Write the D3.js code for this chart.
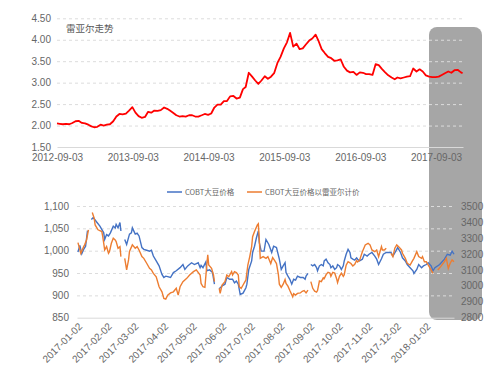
<!DOCTYPE html>
<html>
<head>
<meta charset="utf-8">
<title>雷亚尔走势 / CBOT大豆价格</title>
<script src="https://d3js.org/d3.v7.min.js"></script>
<style>
    body { margin: 0; background: #fff; }
    svg text { font-family: "Noto Sans CJK SC", "Noto Sans", sans-serif; fill: #666; }
    svg .tick text { font-family: "Liberation Sans", "DejaVu Sans", sans-serif; }
</style>
</head>
<body>
<div id="chart"></div>
<script>
// ---- top chart: BRL exchange rate (semi-monthly readings) ----
var rateDates = [
    "2012-09-03","2012-09-16","2012-10-01","2012-10-16","2012-11-01","2012-11-16","2012-12-01","2012-12-16",
    "2013-01-01","2013-01-16","2013-02-01","2013-02-16","2013-03-01","2013-03-16","2013-04-01","2013-04-16","2013-05-01","2013-05-16","2013-06-01","2013-06-16",
    "2013-07-01","2013-07-16","2013-08-01","2013-08-16","2013-09-01","2013-09-16","2013-10-01","2013-10-16","2013-11-01","2013-11-16","2013-12-01","2013-12-16",
    "2014-01-01","2014-01-16","2014-02-01","2014-02-16","2014-03-01","2014-03-16","2014-04-01","2014-04-16","2014-05-01","2014-05-16","2014-06-01","2014-06-16",
    "2014-07-01","2014-07-16","2014-08-01","2014-08-16","2014-09-01","2014-09-16","2014-10-01","2014-10-16","2014-11-01","2014-11-16","2014-12-01","2014-12-16",
    "2015-01-01","2015-01-16","2015-02-01","2015-02-16","2015-03-01","2015-03-16","2015-04-01","2015-04-16","2015-05-01","2015-05-16","2015-06-01","2015-06-16",
    "2015-07-01","2015-07-16","2015-08-01","2015-08-16","2015-09-01","2015-09-16","2015-10-01","2015-10-16","2015-11-01","2015-11-16","2015-12-01","2015-12-16",
    "2016-01-01","2016-01-16","2016-02-01","2016-02-16","2016-03-01","2016-03-16","2016-04-01","2016-04-16","2016-05-01","2016-05-16","2016-06-01","2016-06-16",
    "2016-07-01","2016-07-16","2016-08-01","2016-08-16","2016-09-01","2016-09-16","2016-10-01","2016-10-16","2016-11-01","2016-11-16","2016-12-01","2016-12-16",
    "2017-01-01","2017-01-16","2017-02-01","2017-02-16","2017-03-01","2017-03-16","2017-04-01","2017-04-16","2017-05-01","2017-05-16","2017-06-01","2017-06-16",
    "2017-07-01","2017-07-16","2017-08-01","2017-08-16","2017-09-01","2017-09-16","2017-10-01","2017-10-16","2017-11-01","2017-11-16","2017-12-01","2017-12-16",
    "2018-01-01","2018-01-09"
];
var rateValues = [
    2.05, 2.04, 2.03, 2.04, 2.03, 2.06, 2.10, 2.11,
    2.06, 2.05, 2.02, 1.98, 1.96, 1.97, 2.02, 2.00, 2.02, 2.03, 2.10, 2.21, 2.27, 2.26, 2.28, 2.35, 2.43, 2.30, 2.22, 2.18, 2.20, 2.32, 2.30, 2.35,
    2.34, 2.36, 2.42, 2.39, 2.35, 2.30, 2.24, 2.21, 2.22, 2.21, 2.24, 2.24, 2.21, 2.21, 2.24, 2.27, 2.25, 2.28, 2.42, 2.49, 2.49, 2.57, 2.57, 2.68,
    2.69, 2.63, 2.65, 2.85, 2.90, 3.23, 3.14, 3.05, 2.97, 3.05, 3.15, 3.09, 3.14, 3.22, 3.46, 3.60, 3.80, 3.94, 4.16, 3.84, 3.91, 3.78, 3.80, 3.89,
    3.98, 4.03, 4.12, 3.96, 3.78, 3.69, 3.60, 3.57, 3.51, 3.52, 3.54, 3.37, 3.28, 3.24, 3.25, 3.18, 3.24, 3.23, 3.20, 3.20, 3.18, 3.43, 3.41, 3.32,
    3.24, 3.17, 3.12, 3.08, 3.12, 3.10, 3.12, 3.14, 3.15, 3.33, 3.26, 3.31, 3.26, 3.17, 3.14, 3.13, 3.13, 3.14, 3.18, 3.22, 3.26, 3.23, 3.29, 3.30,
    3.24, 3.22
];
var rateTicks = [1.5, 2.0, 2.5, 3.0, 3.5, 4.0, 4.5];
var rateTickDates = ["2012-09-03", "2013-09-03", "2014-09-03", "2015-09-03", "2016-09-03", "2017-09-03"];

// ---- bottom chart: soybean price (null = gap in the series) ----
var cobtDates = [
    "2017-01-02","2017-01-04","2017-01-06","2017-01-08","2017-01-10","2017-01-12","2017-01-14",
    "2017-01-16","2017-01-18","2017-01-22","2017-01-25","2017-01-29","2017-01-30","2017-02-01","2017-02-03","2017-02-05","2017-02-08","2017-02-10","2017-02-11","2017-02-13","2017-02-15","2017-02-16","2017-02-18",
    "2017-02-20","2017-02-22","2017-02-25","2017-02-27","2017-02-28","2017-03-03","2017-03-05","2017-03-07","2017-03-10","2017-03-12","2017-03-15","2017-03-18","2017-03-20","2017-03-22","2017-03-25","2017-03-28","2017-03-31",
    "2017-04-02","2017-04-04","2017-04-06","2017-04-09","2017-04-12","2017-04-15","2017-04-19","2017-04-22","2017-04-24","2017-04-27","2017-05-01","2017-05-04","2017-05-08","2017-05-10","2017-05-11","2017-05-13","2017-05-16","2017-05-17","2017-05-20","2017-05-23","2017-05-25","2017-05-27",
    "2017-05-30","2017-06-02","2017-06-05","2017-06-07","2017-06-10","2017-06-13","2017-06-15","2017-06-17","2017-06-19","2017-06-21","2017-06-24","2017-06-27","2017-06-28","2017-06-30",
    "2017-07-03","2017-07-04","2017-07-06","2017-07-08","2017-07-10","2017-07-11","2017-07-13","2017-07-16","2017-07-18","2017-07-21","2017-07-24","2017-07-26","2017-07-29",
    "2017-08-01","2017-08-03","2017-08-05","2017-08-07","2017-08-08","2017-08-10","2017-08-12","2017-08-14","2017-08-16","2017-08-18","2017-08-20","2017-08-23","2017-08-26","2017-08-28","2017-08-29","2017-08-31","2017-09-01",
    "2017-09-03","2017-09-05","2017-09-07","2017-09-09","2017-09-10","2017-09-12","2017-09-14","2017-09-16","2017-09-17","2017-09-19","2017-09-21","2017-09-23","2017-09-24","2017-09-26","2017-09-28","2017-09-30",
    "2017-10-01","2017-10-03","2017-10-05","2017-10-07","2017-10-08","2017-10-10","2017-10-12","2017-10-14","2017-10-15","2017-10-17","2017-10-19","2017-10-21","2017-10-22","2017-10-24","2017-10-27","2017-10-29",
    "2017-11-01","2017-11-03","2017-11-06","2017-11-09","2017-11-11","2017-11-13","2017-11-16","2017-11-18","2017-11-21","2017-11-24","2017-11-26","2017-11-28",
    "2017-12-01","2017-12-03","2017-12-06","2017-12-08","2017-12-11","2017-12-13","2017-12-16","2017-12-19","2017-12-20","2017-12-23","2017-12-25","2017-12-28","2017-12-30",
    "2018-01-02","2018-01-04","2018-01-07","2018-01-09","2018-01-11","2018-01-16","2018-01-21","2018-01-24","2018-01-27","2018-01-29","2018-01-31"
];
var cobtPrices = [
    997, 1012, 993, 1003, 1010, 1045, null,
    1070, 1074, 1063, 1055, 1040, 1025, 1036, 1033, 1040, 1055, 1051, 1059, 1051, 1063, 1044, null,
    1025, 1014, 1037, 1040, 1051, 1037, 1039, 1033, 1007, 1003, 1001, 999, 1001, 988, 977, 966, 947,
    940, 943, 942, 940, 951, 955, 962, 969, 958, 966, 973, 969, 973, 962, 967, 962, 975, 955, 957, 951, 925, null,
    915, 921, 925, 940, 936, 936, 928, 932, 925, 902, 905, 917, 925, 958,
    977, 996, 1010, 1029, 1044, 1018, 999, 999, 1025, 1014, 996, 1010, 1007,
    981, 958, 966, 973, 951, 943, 936, 925, 936, 934, 943, 940, 940, 936, 943, 949, null,
    969, 966, 969, 962, 955, 966, 969, 966, 977, 981, 973, 969, 962, 966, 958, 962,
    969, 966, 958, 966, 977, 992, 1003, 996, 984, 981, 979, 984, 981, 977, 981, 992,
    988, 992, 996, 988, 981, 969, 982, 992, 996, 996, 996, 988,
    999, 1007, 996, 984, 977, 969, 962, 955, 949, 958, 969, 962, 966,
    969, 973, 966, 955, 962, 969, 981, 992, 990, 999, 992
];
var brlDates = [
    "2017-01-02","2017-01-05","2017-01-08","2017-01-09","2017-01-11","2017-01-13","2017-01-15",
    "2017-01-17","2017-01-19","2017-01-20","2017-01-23","2017-01-27","2017-01-28","2017-01-30","2017-02-01","2017-02-03","2017-02-04","2017-02-06","2017-02-08","2017-02-10","2017-02-11","2017-02-13","2017-02-15","2017-02-16","2017-02-18",
    "2017-02-20","2017-02-22","2017-02-24","2017-02-25","2017-02-28","2017-03-03","2017-03-05","2017-03-07","2017-03-10","2017-03-12","2017-03-15","2017-03-18","2017-03-20","2017-03-22","2017-03-25","2017-03-28","2017-03-31",
    "2017-04-02","2017-04-04","2017-04-06","2017-04-09","2017-04-12","2017-04-15","2017-04-17","2017-04-19","2017-04-22","2017-04-26","2017-04-29","2017-05-03","2017-05-06","2017-05-10","2017-05-11","2017-05-13","2017-05-15","2017-05-17","2017-05-18","2017-05-19","2017-05-22","2017-05-24","2017-05-25","2017-05-27",
    "2017-05-30","2017-05-31","2017-06-02","2017-06-05","2017-06-07","2017-06-09","2017-06-12","2017-06-13","2017-06-15","2017-06-17","2017-06-19","2017-06-20","2017-06-22","2017-06-24","2017-06-26","2017-06-27","2017-06-29",
    "2017-07-01","2017-07-03","2017-07-04","2017-07-06","2017-07-09","2017-07-10","2017-07-11","2017-07-12","2017-07-15","2017-07-18","2017-07-20","2017-07-23","2017-07-25","2017-07-27","2017-07-29","2017-07-31",
    "2017-08-01","2017-08-03","2017-08-05","2017-08-07","2017-08-08","2017-08-10","2017-08-12","2017-08-15","2017-08-16","2017-08-18","2017-08-20","2017-08-23","2017-08-25","2017-08-27","2017-08-29","2017-08-31","2017-09-01",
    "2017-09-03","2017-09-05","2017-09-07","2017-09-09","2017-09-10","2017-09-12","2017-09-14","2017-09-16","2017-09-17","2017-09-19","2017-09-21","2017-09-23","2017-09-24","2017-09-26","2017-09-28","2017-09-30",
    "2017-10-01","2017-10-03","2017-10-05","2017-10-07","2017-10-08","2017-10-10","2017-10-12","2017-10-14","2017-10-15","2017-10-17","2017-10-19","2017-10-21","2017-10-22","2017-10-24","2017-10-27","2017-10-30",
    "2017-11-02","2017-11-04","2017-11-06","2017-11-09","2017-11-11","2017-11-13","2017-11-16","2017-11-17","2017-11-19","2017-11-21","2017-11-23",
    "2017-11-26","2017-11-28","2017-11-30","2017-12-02","2017-12-04","2017-12-07","2017-12-08","2017-12-11","2017-12-13","2017-12-16","2017-12-18","2017-12-20","2017-12-23","2017-12-25","2017-12-28","2017-12-29","2017-12-31",
    "2018-01-02","2018-01-03","2018-01-05","2018-01-07","2018-01-09","2018-01-11",
    "2018-01-14","2018-01-17","2018-01-21","2018-01-23","2018-01-25","2018-01-27","2018-01-29","2018-01-31"
];
var brlPrices = [
    3272, 3205, 3247, 3258, 3289, 3353, null,
    3462, 3426, 3384, 3353, 3342, 3310, 3226, 3247, 3205, 3215, 3268, 3300, 3289, 3279, 3237, 3247, 3184, null,
    3173, 3100, 3163, 3216, 3258, 3237, 3247, 3226, 3184, 3173, 3142, 3110, 3100, 3078, 3057, 2994, 2962,
    2920, 2916, 2941, 2955, 2962, 2984, 2941, 2994, 3026, 3047, 3068, 3089, 3100, 3068, 3015, 2994, 2990, 3131, 3195, 3131, 3110, 3068, 3026, null,
    2984, 2952, 3005, 3026, 3068, 3057, 3089, 3068, 3089, 3083, 3068, 2994, 2984, 3005, 3026, 3036, 3131,
    3184, 3247, 3310, 3342, 3384, 3391, 3289, 3173, 3184, 3173, 3184, 3140, 3178, 3160, 3140, 3070,
    3010, 2990, 3010, 3040, 3015, 2998, 2970, 2931, 2950, 2941, 2952, 2955, 2965, 2970, 2955, 2973, null,
    3026, 2984, 2966, 2960, 2970, 3030, 3026, 3050, 3045, 3070, 3085, 3080, 3060, 3085, 3080, 3045,
    3020, 3060, 3080, 3060, 3070, 3130, 3152, 3145, 3140, 3125, 3135, 3160, 3150, 3160, 3215, 3258,
    3268, 3258, 3226, 3215, 3226, 3184, 3247, 3226, 3226, 3237, null,
    3205, 3184, 3237, 3258, 3247, 3226, 3205, 3173, 3142, 3131, 3152, 3173, 3215, 3184, 3173, 3184, 3152,
    3152, 3142, 3121, 3100, 3078, null,
    3100, 3121, 3152, 3173, 3110, 3142, 3163, 3152
];
var priceTicks = [850, 900, 950, 1000, 1050, 1100];
var brlTicks = [2800, 2900, 3000, 3100, 3200, 3300, 3400, 3500];
var monthTicks = ["2017-01-02","2017-02-02","2017-03-02","2017-04-02","2017-05-02","2017-06-02","2017-07-02",
    "2017-08-02","2017-09-02","2017-10-02","2017-11-02","2017-12-02","2018-01-02"];
var legendNames = ["COBT大豆价格", "CBOT大豆价格以雷亚尔计价"];
var lineColors = ["#4472c4", "#ed7d31"];

var parse = d3.timeParse("%Y-%m-%d");
var fmt = d3.timeFormat("%Y-%m-%d");

var svg = d3.select("#chart")
    .append("svg")
    .attr("width", 500)
    .attr("height", 375);

// grey highlight box behind the last few months
svg.append("rect")
    .attr("x", 429).attr("y", 27)
    .attr("width", 53).attr("height", 293)
    .attr("rx", 8)
    .attr("fill", "#a6a6a6");

// ================= top chart =================
var xTop = d3.scaleTime()
    .domain([parse("2012-09-03"), parse("2018-01-11")])
    .range([57, 463]);
var yTop = d3.scaleLinear()
    .domain([1.5, 4.5])
    .range([147, 18.3]);

// dashed gridlines
svg.append("g")
    .attr("transform", "translate(57,0)")
    .call(d3.axisLeft(yTop).tickValues(rateTicks.slice(1)).tickSize(-406).tickFormat(""))
    .call(function (g) { g.select(".domain").remove(); })
    .selectAll("line")
    .attr("stroke", "#dcdcdc")
    .attr("stroke-dasharray", "3,3");

svg.append("g")
    .attr("transform", "translate(57,0)")
    .attr("font-size", 7.5)
    .call(d3.axisLeft(yTop).tickValues(rateTicks).tickFormat(d3.format(".2f")).tickSize(0).tickPadding(6))
    .call(function (g) { g.select(".domain").remove(); });

var xAxisTop = svg.append("g")
    .attr("transform", "translate(0," + yTop(1.5) + ")")
    .attr("font-size", 7.5)
    .call(d3.axisBottom(xTop).tickValues(rateTickDates.map(parse)).tickFormat(fmt).tickSize(0).tickPadding(6.5));
xAxisTop.select(".domain").attr("stroke", "#d9d9d9");

var rateData = rateDates.map(function (d, i) { return { date: parse(d), value: rateValues[i] }; });
svg.append("path")
    .datum(rateData)
    .attr("fill", "none")
    .attr("stroke", "#ff0000")
    .attr("stroke-width", 1.8)
    .attr("stroke-linejoin", "round")
    .attr("d", d3.line()
        .x(function (d) { return xTop(d.date); })
        .y(function (d) { return yTop(d.value); }));

svg.append("text")
    .attr("x", 66).attr("y", 32)
    .attr("font-size", 9.5)
    .style("fill", "#595959")
    .text("雷亚尔走势");

// ================= bottom chart =================
var xBot = d3.scaleTime()
    .domain([parse("2017-01-01"), parse("2018-01-31")])
    .range([77, 454]);
var yLeft = d3.scaleLinear()
    .domain([850, 1100])
    .range([317.7, 206]);
var yRight = d3.scaleLinear()
    .domain([2800, 3500])
    .range([317.5, 206.5]);

svg.append("g")
    .attr("transform", "translate(77,0)")
    .call(d3.axisLeft(yLeft).tickValues(priceTicks.slice(1)).tickSize(-377).tickFormat(""))
    .call(function (g) { g.select(".domain").remove(); })
    .selectAll("line")
    .attr("stroke", "#dcdcdc")
    .attr("stroke-dasharray", "3,3");

svg.append("g")
    .attr("transform", "translate(76,0)")
    .attr("font-size", 7)
    .call(d3.axisLeft(yLeft).tickValues(priceTicks).tickFormat(d3.format(",")).tickSize(0).tickPadding(7))
    .call(function (g) { g.select(".domain").remove(); });

svg.append("g")
    .attr("transform", "translate(461,0)")
    .attr("font-size", 7)
    .call(d3.axisRight(yRight).tickValues(brlTicks).tickFormat(d3.format("d")).tickSize(0).tickPadding(0))
    .call(function (g) { g.select(".domain").remove(); });

var xAxisBot = svg.append("g")
    .attr("transform", "translate(0," + yLeft(850) + ")")
    .attr("font-size", 7.5)
    .call(d3.axisBottom(xBot).tickValues(monthTicks.map(parse)).tickFormat(fmt).tickSize(0));
xAxisBot.select(".domain").attr("stroke", "#d9d9d9");
xAxisBot.selectAll("text")
    .attr("x", 0).attr("y", 0).attr("dy", "0.35em")
    .attr("text-anchor", "end")
    .attr("transform", "translate(2,7) rotate(-45)");

var line = function (x, y) {
    return d3.line()
        .defined(function (d) { return d.value != null; })
        .x(function (d) { return x(d.date); })
        .y(function (d) { return y(d.value); });
};

var cobtData = cobtDates.map(function (d, i) { return { date: parse(d), value: cobtPrices[i] }; });
var brlData = brlDates.map(function (d, i) { return { date: parse(d), value: brlPrices[i] }; });

svg.append("path")
    .datum(cobtData)
    .attr("fill", "none")
    .attr("stroke", lineColors[0])
    .attr("stroke-width", 1.4)
    .attr("d", line(xBot, yLeft));

svg.append("path")
    .datum(brlData)
    .attr("fill", "none")
    .attr("stroke", lineColors[1])
    .attr("stroke-width", 1.4)
    .attr("d", line(xBot, yRight));

// legend
var legend = svg.append("g").attr("transform", "translate(167,192)");
var legendX = [0, 80];
legendNames.forEach(function (name, i) {
    legend.append("line")
        .attr("x1", legendX[i]).attr("x2", legendX[i] + 15)
        .attr("stroke", lineColors[i])
        .attr("stroke-width", 1.5);
    legend.append("text")
        .attr("x", legendX[i] + 18)
        .attr("dy", "0.35em")
        .attr("font-size", 7.5)
        .text(name);
});
</script>
</body>
</html>
